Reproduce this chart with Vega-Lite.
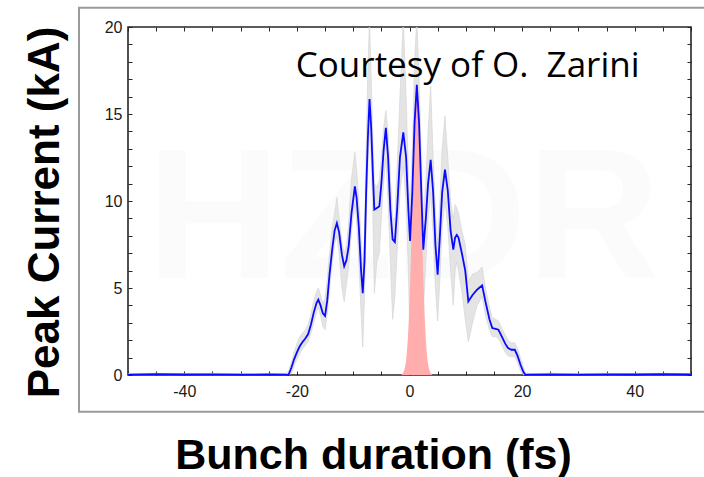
{
  "$schema": "https://vega.github.io/schema/vega-lite/v6.json",
  "autosize": "none",
  "width": 563,
  "height": 348,
  "padding": {"left": 128, "top": 27, "right": 13, "bottom": 102},
  "background": "white",
  "config": {
    "view": {"stroke": "#262626", "strokeWidth": 1.6},
    "axis": {"domain": false, "grid": false, "labelFont": "Liberation Sans", "labelFontSize": 16, "labelColor": "#1a1a1a", "tickColor": "#262626", "tickSize": -4, "tickWidth": 1, "titleFont": "Liberation Sans", "titleFontWeight": "bold", "titleFontSize": 44, "titleColor": "#000000"}
  },
  "datasets": {
    "curve": [
      {"x": -50, "y": 0.02, "lo": 0, "hi": 0.08},
      {"x": -45, "y": 0.05, "lo": 0, "hi": 0.1},
      {"x": -40, "y": 0.03, "lo": 0, "hi": 0.09},
      {"x": -35, "y": 0.04, "lo": 0, "hi": 0.1},
      {"x": -30, "y": 0.02, "lo": 0, "hi": 0.08},
      {"x": -25, "y": 0.03, "lo": 0, "hi": 0.09},
      {"x": -22, "y": 0.02, "lo": 0, "hi": 0.1},
      {"x": -21.5, "y": 0.0, "lo": 0, "hi": 0.2},
      {"x": -21.0, "y": 0.4, "lo": 0.1, "hi": 0.7},
      {"x": -20.5, "y": 0.9, "lo": 0.5, "hi": 1.3},
      {"x": -20.0, "y": 1.3, "lo": 0.9, "hi": 1.8},
      {"x": -19.5, "y": 1.65, "lo": 1.2, "hi": 2.2},
      {"x": -19.0, "y": 1.9, "lo": 1.5, "hi": 2.4},
      {"x": -18.5, "y": 2.1, "lo": 1.7, "hi": 2.6},
      {"x": -18.0, "y": 2.35, "lo": 1.9, "hi": 2.9},
      {"x": -17.5, "y": 2.9, "lo": 2.4, "hi": 3.5},
      {"x": -17.0, "y": 3.6, "lo": 3.0, "hi": 4.3},
      {"x": -16.5, "y": 4.15, "lo": 3.6, "hi": 4.8},
      {"x": -16.2, "y": 4.33, "lo": 3.9, "hi": 5.0},
      {"x": -15.8, "y": 4.0, "lo": 3.4, "hi": 4.6},
      {"x": -15.4, "y": 3.55, "lo": 2.8, "hi": 4.1},
      {"x": -15.0, "y": 3.4, "lo": 2.6, "hi": 4.4},
      {"x": -14.6, "y": 4.3, "lo": 3.5, "hi": 5.5},
      {"x": -14.2, "y": 5.8, "lo": 5.0, "hi": 7.0},
      {"x": -13.7, "y": 7.3, "lo": 6.5, "hi": 8.5},
      {"x": -13.3, "y": 8.3, "lo": 7.5, "hi": 9.3},
      {"x": -12.9, "y": 8.73, "lo": 8.0, "hi": 10.2},
      {"x": -12.5, "y": 8.2, "lo": 7.0, "hi": 9.0},
      {"x": -12.0, "y": 6.9, "lo": 5.0, "hi": 7.6},
      {"x": -11.6, "y": 6.25, "lo": 4.2, "hi": 7.0},
      {"x": -11.2, "y": 6.6, "lo": 5.2, "hi": 7.4},
      {"x": -10.8, "y": 7.4, "lo": 6.3, "hi": 8.8},
      {"x": -10.3, "y": 9.3, "lo": 8.3, "hi": 11.3},
      {"x": -9.7, "y": 10.84, "lo": 9.8, "hi": 12.8},
      {"x": -9.4, "y": 10.2, "lo": 8.8, "hi": 11.8},
      {"x": -9.0, "y": 8.5, "lo": 6.5, "hi": 10.0},
      {"x": -8.6, "y": 6.0, "lo": 3.5, "hi": 7.8},
      {"x": -8.3, "y": 4.7, "lo": 1.6, "hi": 6.0},
      {"x": -8.0, "y": 6.5, "lo": 4.5, "hi": 8.0},
      {"x": -7.7, "y": 10.5, "lo": 8.5, "hi": 13.0},
      {"x": -7.4, "y": 13.6, "lo": 12.0, "hi": 17.5},
      {"x": -7.1, "y": 15.86, "lo": 14.0, "hi": 20.5},
      {"x": -6.8, "y": 14.2, "lo": 12.5, "hi": 17.0},
      {"x": -6.5, "y": 11.5, "lo": 9.0, "hi": 13.5},
      {"x": -6.25, "y": 9.5, "lo": 4.7, "hi": 11.0},
      {"x": -5.8, "y": 9.6, "lo": 6.5, "hi": 10.8},
      {"x": -5.35, "y": 9.7, "lo": 7.0, "hi": 11.2},
      {"x": -5.0, "y": 11.0, "lo": 9.0, "hi": 12.5},
      {"x": -4.6, "y": 12.9, "lo": 11.0, "hi": 14.2},
      {"x": -4.2, "y": 14.2, "lo": 12.5, "hi": 15.2},
      {"x": -3.8, "y": 12.5, "lo": 10.0, "hi": 14.0},
      {"x": -3.4, "y": 9.5, "lo": 6.5, "hi": 11.5},
      {"x": -3.0, "y": 7.8, "lo": 3.2, "hi": 9.0},
      {"x": -2.6, "y": 7.65, "lo": 4.5, "hi": 9.0},
      {"x": -2.2, "y": 9.5, "lo": 7.0, "hi": 12.0},
      {"x": -1.7, "y": 12.5, "lo": 10.5, "hi": 16.0},
      {"x": -1.1, "y": 13.94, "lo": 12.0, "hi": 20.5},
      {"x": -0.6, "y": 12.5, "lo": 10.0, "hi": 16.0},
      {"x": -0.2, "y": 9.5, "lo": 6.0, "hi": 11.5},
      {"x": 0.1, "y": 7.7, "lo": 1.5, "hi": 9.5},
      {"x": 0.5, "y": 10.5, "lo": 7.5, "hi": 13.0},
      {"x": 0.9, "y": 14.5, "lo": 12.0, "hi": 18.0},
      {"x": 1.3, "y": 16.68, "lo": 14.5, "hi": 20.5},
      {"x": 1.7, "y": 14.5, "lo": 12.0, "hi": 17.0},
      {"x": 2.1, "y": 10.5, "lo": 7.5, "hi": 12.5},
      {"x": 2.45, "y": 7.2, "lo": 3.6, "hi": 9.0},
      {"x": 2.9, "y": 9.0, "lo": 6.5, "hi": 11.0},
      {"x": 3.3, "y": 11.0, "lo": 9.0, "hi": 14.0},
      {"x": 3.76, "y": 12.37, "lo": 10.5, "hi": 16.6},
      {"x": 4.2, "y": 10.5, "lo": 8.0, "hi": 12.5},
      {"x": 4.6, "y": 7.5, "lo": 5.0, "hi": 9.5},
      {"x": 5.0, "y": 5.76, "lo": 3.1, "hi": 7.5},
      {"x": 5.4, "y": 8.0, "lo": 5.5, "hi": 10.0},
      {"x": 5.8, "y": 10.5, "lo": 8.5, "hi": 13.0},
      {"x": 6.3, "y": 11.8, "lo": 10.0, "hi": 14.9},
      {"x": 6.8, "y": 10.6, "lo": 8.5, "hi": 12.5},
      {"x": 7.3, "y": 8.3, "lo": 6.0, "hi": 10.0},
      {"x": 7.78, "y": 7.2, "lo": 4.0, "hi": 9.0},
      {"x": 8.1, "y": 7.9, "lo": 6.0, "hi": 9.8},
      {"x": 8.4, "y": 8.05, "lo": 6.5, "hi": 9.6},
      {"x": 8.7, "y": 7.9, "lo": 6.0, "hi": 9.3},
      {"x": 9.3, "y": 7.0, "lo": 4.8, "hi": 8.3},
      {"x": 9.9, "y": 6.0, "lo": 3.2, "hi": 7.5},
      {"x": 10.45, "y": 4.23, "lo": 1.9, "hi": 5.4},
      {"x": 11.2, "y": 4.6, "lo": 3.0, "hi": 5.8},
      {"x": 12.0, "y": 4.9, "lo": 4.0, "hi": 5.9},
      {"x": 12.9, "y": 5.15, "lo": 4.5, "hi": 6.2},
      {"x": 13.5, "y": 4.2, "lo": 3.4, "hi": 5.0},
      {"x": 14.2, "y": 3.2, "lo": 2.6, "hi": 3.9},
      {"x": 14.7, "y": 2.7, "lo": 2.2, "hi": 3.3},
      {"x": 15.3, "y": 2.65, "lo": 2.2, "hi": 3.2},
      {"x": 15.8, "y": 2.6, "lo": 2.1, "hi": 3.1},
      {"x": 16.4, "y": 2.2, "lo": 1.7, "hi": 2.7},
      {"x": 17.0, "y": 1.8, "lo": 1.3, "hi": 2.3},
      {"x": 17.5, "y": 1.55, "lo": 1.1, "hi": 2.0},
      {"x": 18.1, "y": 1.45, "lo": 1.05, "hi": 1.85},
      {"x": 18.7, "y": 1.45, "lo": 1.05, "hi": 1.85},
      {"x": 19.2, "y": 1.1, "lo": 0.7, "hi": 1.5},
      {"x": 19.7, "y": 0.6, "lo": 0.25, "hi": 1.0},
      {"x": 20.2, "y": 0.2, "lo": 0.0, "hi": 0.5},
      {"x": 20.6, "y": 0.0, "lo": 0.0, "hi": 0.15},
      {"x": 21, "y": 0.02, "lo": 0, "hi": 0.08},
      {"x": 25, "y": 0.04, "lo": 0, "hi": 0.1},
      {"x": 30, "y": 0.02, "lo": 0, "hi": 0.08},
      {"x": 35, "y": 0.04, "lo": 0, "hi": 0.1},
      {"x": 40, "y": 0.03, "lo": 0, "hi": 0.09},
      {"x": 45, "y": 0.05, "lo": 0, "hi": 0.1},
      {"x": 50, "y": 0.03, "lo": 0, "hi": 0.08}
    ],
    "pulse": [
      {"x": -1.5, "y": 0.0},
      {"x": -1.3, "y": 0.06},
      {"x": -1.1, "y": 0.15},
      {"x": -0.9, "y": 0.31},
      {"x": -0.7, "y": 0.62},
      {"x": -0.5, "y": 1.17},
      {"x": -0.3, "y": 2.04},
      {"x": -0.1, "y": 3.34},
      {"x": 0.1, "y": 5.11},
      {"x": 0.3, "y": 7.34},
      {"x": 0.5, "y": 9.87},
      {"x": 0.7, "y": 12.42},
      {"x": 0.9, "y": 14.64},
      {"x": 1.1, "y": 16.16},
      {"x": 1.3, "y": 16.7},
      {"x": 1.5, "y": 16.16},
      {"x": 1.7, "y": 14.64},
      {"x": 1.9, "y": 12.42},
      {"x": 2.1, "y": 9.87},
      {"x": 2.3, "y": 7.34},
      {"x": 2.5, "y": 5.11},
      {"x": 2.7, "y": 3.34},
      {"x": 2.9, "y": 2.04},
      {"x": 3.1, "y": 1.17},
      {"x": 3.3, "y": 0.62},
      {"x": 3.5, "y": 0.31},
      {"x": 3.7, "y": 0.15},
      {"x": 3.9, "y": 0.06},
      {"x": 4.1, "y": 0.0}
    ]
  },
  "resolve": {"axis": {"x": "independent", "y": "independent"}},
  "layer": [
    {
      "data": {"values": [{"label": "HZDR"}]},
      "mark": {"type": "text", "font": "Liberation Sans", "fontWeight": "bold", "fontSize": 185, "fill": "#fbfbfb", "align": "center", "baseline": "alphabetic"},
      "encoding": {
        "x": {"datum": -1.1, "type": "quantitative", "scale": {"domain": [-50, 50], "nice": false}, "axis": {"orient": "bottom", "title": "Bunch duration (fs)", "titleFontSize": 43, "values": [-50, -45, -40, -35, -30, -25, -20, -15, -10, -5, 0, 5, 10, 15, 20, 25, 30, 35, 40, 45, 50], "labelExpr": "datum.value % 20 == 0 ? toString(datum.value) : ''", "labelPadding": 12, "titleX": 245, "titleY": 93, "titleAlign": "center", "titleBaseline": "alphabetic", "titleAnchor": null}},
        "y": {"datum": 5.6, "type": "quantitative", "scale": {"domain": [0, 20], "nice": false}, "axis": {"orient": "left", "title": "Peak Current (kA)", "values": [0, 1, 2, 3, 4, 5, 6, 7, 8, 9, 10, 11, 12, 13, 14, 15, 16, 17, 18, 19, 20], "labelExpr": "datum.value % 5 == 0 ? toString(datum.value) : ''", "labelPadding": 10, "titleAngle": -90, "titleX": -70, "titleY": 185, "titleAlign": "center", "titleBaseline": "alphabetic"}},
        "text": {"field": "label"}
      }
    },
    {
      "data": {"name": "curve"},
      "mark": {"type": "area", "fill": "#e4e4e4", "stroke": "#d2d2d2", "strokeWidth": 0.6, "clip": true},
      "encoding": {
        "x": {"field": "x", "type": "quantitative", "axis": null},
        "y": {"field": "lo", "type": "quantitative", "axis": null},
        "y2": {"field": "hi"}
      }
    },
    {
      "data": {"name": "pulse"},
      "mark": {"type": "area", "fill": "#ffadad", "opacity": 1},
      "encoding": {
        "x": {"field": "x", "type": "quantitative", "axis": null},
        "y": {"field": "y", "type": "quantitative", "axis": null}
      }
    },
    {
      "data": {"name": "curve"},
      "mark": {"type": "line", "color": "#0a0aff", "strokeWidth": 1.8},
      "encoding": {
        "x": {"field": "x", "type": "quantitative", "axis": {"orient": "top", "title": null, "labels": false, "values": [-50, -45, -40, -35, -30, -25, -20, -15, -10, -5, 0, 5, 10, 15, 20, 25, 30, 35, 40, 45, 50]}},
        "y": {"field": "y", "type": "quantitative", "axis": {"orient": "right", "title": null, "labels": false, "values": [0, 1, 2, 3, 4, 5, 6, 7, 8, 9, 10, 11, 12, 13, 14, 15, 16, 17, 18, 19, 20]}}
      }
    },
    {
      "data": {"values": [{"label": "Courtesy of O.\u00a0 Zarini"}]},
      "mark": {"type": "text", "font": "Open Sans", "fontSize": 35, "fill": "#000000", "align": "left", "baseline": "alphabetic"},
      "encoding": {
        "x": {"datum": -20.2, "type": "quantitative", "axis": null},
        "y": {"datum": 17.14, "type": "quantitative", "axis": null},
        "text": {"field": "label"}
      }
    },
    {
      "data": {"values": [{"frame": "outer"}]},
      "mark": {"type": "rect", "fill": null, "stroke": "#9a9a9a", "strokeWidth": 2},
      "encoding": {
        "x": {"datum": -58.7, "type": "quantitative", "axis": null},
        "x2": {"datum": 56},
        "y": {"datum": -2.11, "type": "quantitative", "axis": null},
        "y2": {"datum": 21.11}
      }
    }
  ]
}
